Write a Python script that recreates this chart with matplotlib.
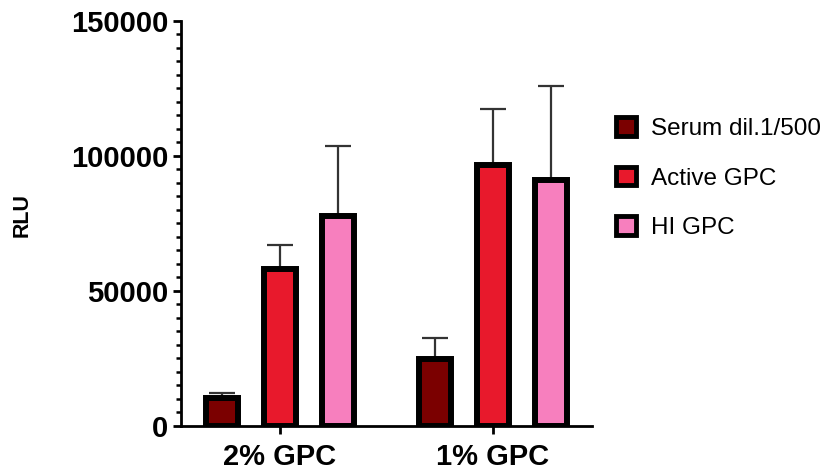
import numpy as np
import matplotlib
matplotlib.use('Agg')
import matplotlib.pyplot as plt
from matplotlib.ticker import MultipleLocator
from matplotlib.patches import Patch

plt.rcParams['font.family'] = ['Liberation Sans', 'DejaVu Sans']

groups = ['2% GPC', '1% GPC']
series = ['Serum dil.1/500', 'Active GPC', 'HI GPC']
colors = ['#7B0000', '#E8192C', '#F77FBE']
means = {
    'Serum dil.1/500': [10300, 24800],
    'Active GPC': [58000, 96500],
    'HI GPC': [77800, 91200],
}
errs = {
    'Serum dil.1/500': [2000, 7600],
    'Active GPC': [9000, 21000],
    'HI GPC': [26000, 34500],
}

group_pos = np.array([0.0, 3.67])
offsets = [-1.0, 0.0, 1.0]
width = 0.55

fig = plt.figure(figsize=(8.32, 4.72), dpi=100)
ax = fig.add_axes([0.2175, 0.0975, 0.494, 0.8585])

for s, c, off in zip(series, colors, offsets):
    x = group_pos + off
    ax.bar(x, means[s], width=width, color=c, edgecolor='black', linewidth=4.3, zorder=3, label=s)
    ax.errorbar(x, means[s], yerr=[np.zeros(len(x)), errs[s]], fmt='none',
                ecolor='#333333', elinewidth=1.6, capsize=9.5, capthick=1.6, zorder=2)

ax.set_ylim(0, 150000)
ax.set_xlim(-1.707, 5.38)
ax.yaxis.set_major_locator(MultipleLocator(50000))
ax.yaxis.set_minor_locator(MultipleLocator(5000))
ax.set_xticks(group_pos)
ax.set_xticklabels(groups, fontsize=21, fontweight='bold')
ax.tick_params(axis='y', which='major', length=5.5, width=2, labelsize=21, pad=3.5)
ax.tick_params(axis='y', which='minor', length=3.5, width=1.8)
ax.tick_params(axis='x', which='major', length=6, width=2, pad=6)
for lab in ax.get_yticklabels():
    lab.set_fontweight('bold')

for side in ['top', 'right']:
    ax.spines[side].set_visible(False)
for side in ['left', 'bottom']:
    ax.spines[side].set_linewidth(2)

fig.text(0.026, 0.5455, 'RLU', rotation=90, ha='center', va='center', fontsize=15.5, fontweight='bold')

handles = [Patch(facecolor=c, edgecolor='black', linewidth=3.5) for c in colors]
fig.legend(handles, series, loc='upper left', bbox_to_anchor=(0.729, 0.772), frameon=False,
           fontsize=17.5, handlelength=0.8, handleheight=0.8, handletextpad=0.65, labelspacing=1.1,
           borderaxespad=0)

fig.savefig('out.png', dpi=100)
